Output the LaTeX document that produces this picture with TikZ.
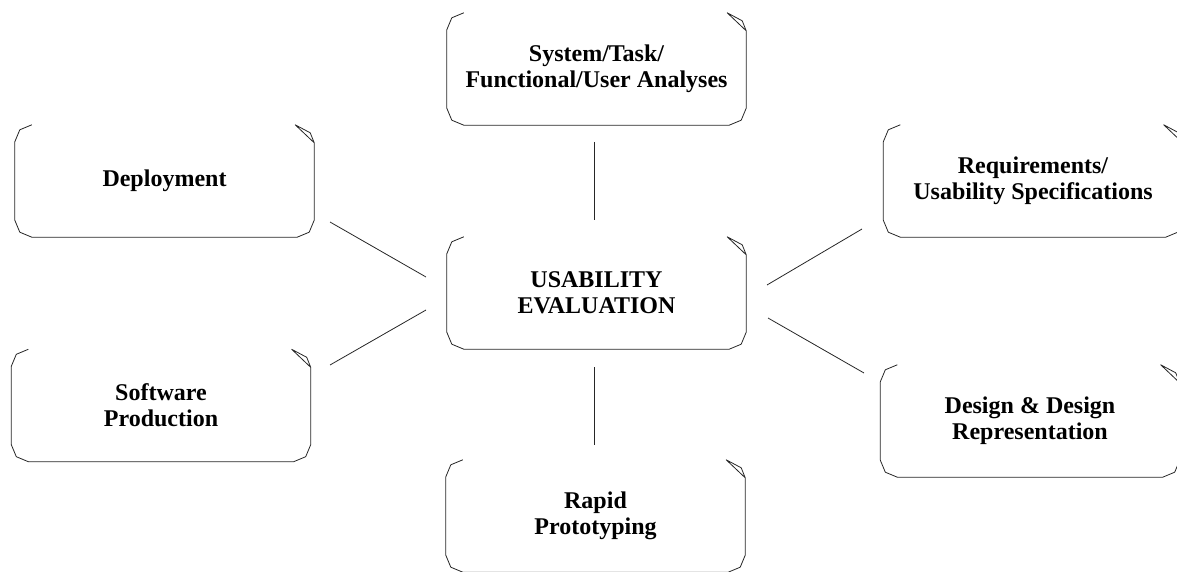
\documentclass[tikz,border=0pt]{standalone}
\usepackage{fontspec}
\setmainfont{Liberation Serif}
\tikzset{
  lbl/.style={minimum width=299pt, minimum height=112pt, inner sep=0pt, align=center,
    font=\fontsize{24}{26}\selectfont\bfseries},
  edge/.style={draw=black!85, line width=0.8pt, line join=round},
  conn/.style={draw=black!85, line width=0.8pt}
}
\newcommand\cornerbox[1]{%
  \draw[edge] ([shift={(17,0)}]#1.north west) -- ([shift={(5,5)}]#1.north west)
    -- ([shift={(0,17)}]#1.north west) -- ([shift={(0,-17)}]#1.south west)
    -- ([shift={(5,-5)}]#1.south west) -- ([shift={(17,0)}]#1.south west)
    -- ([shift={(-17,0)}]#1.south east) -- ([shift={(-5,-5)}]#1.south east)
    -- ([shift={(0,-17)}]#1.south east) -- ([shift={(0,18)}]#1.north east)
    -- ([shift={(-19,0)}]#1.north east) -- ([shift={(-4,8)}]#1.north east)
    -- ([shift={(0,18)}]#1.north east);
}
\begin{document}
\begin{tikzpicture}[x=1pt,y=-1pt]
\useasboundingbox (0,0) rectangle (1177,572);
\node[lbl] (sys) at (596.5,69) {System/Task/\\Functional/User Analyses};
\node[lbl] (depl) at (164.5,181) {Deployment};
\node[lbl] (req) at (1033,181) {Requirements/\\Usability Specifications};
\node[lbl] (usab) at (596.5,293) {USABILITY\\EVALUATION};
\node[lbl] (soft) at (161,405.5) {Software\\Production};
\node[lbl] (des) at (1030,421) {Design \& Design\\Representation};
\node[lbl] (rapid) at (595.5,516) {Rapid\\Prototyping};
\foreach \n in {sys,depl,req,usab,soft,des,rapid}{\cornerbox{\n}}
\coordinate (c1a) at (594,142); \coordinate (c1b) at (594,220);
\coordinate (c2a) at (330,222); \coordinate (c2b) at (426,277);
\coordinate (c3a) at (330,365); \coordinate (c3b) at (426,310);
\coordinate (c4a) at (767,285); \coordinate (c4b) at (862,229);
\coordinate (c5a) at (768,318); \coordinate (c5b) at (864,373);
\coordinate (c6a) at (594,367); \coordinate (c6b) at (594,445);
\draw[conn] (c1a) -- (c1b);
\draw[conn] (c2a) -- (c2b);
\draw[conn] (c3a) -- (c3b);
\draw[conn] (c4a) -- (c4b);
\draw[conn] (c5a) -- (c5b);
\draw[conn] (c6a) -- (c6b);
\end{tikzpicture}
\end{document}
